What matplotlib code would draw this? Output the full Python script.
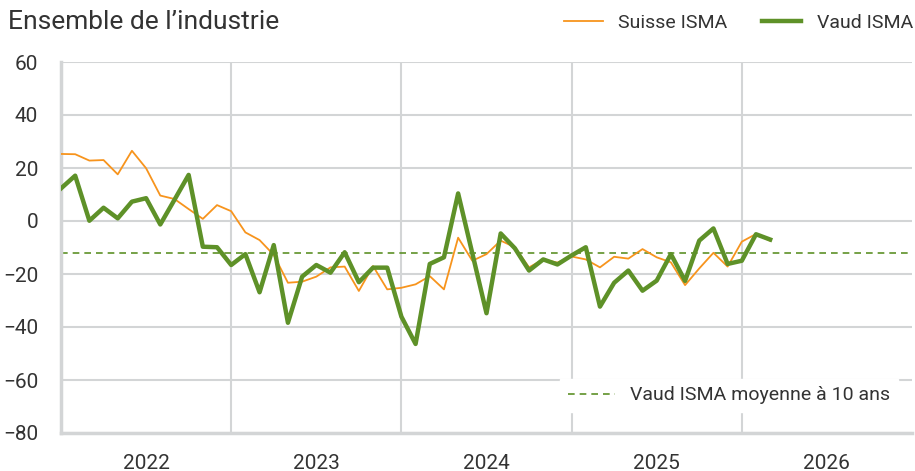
import numpy as np
import matplotlib.pyplot as plt

plt.rcParams['font.family'] = ['Roboto', 'DejaVu Sans']

years = ['2022', '2023', '2024', '2025', '2026']

# monthly values from Jan 2022 to Mar 2026
suisse = [25.3, 25.2, 22.8, 23.0, 17.6, 26.5, 19.9, 9.6, 8.3, 4.5, 0.8, 6.0,
          3.7, -4.3, -7.2, -12.8, -23.3, -22.9, -21.0, -17.5, -17.2, -26.4, -17.0, -25.8,
          -25.2, -23.9, -20.8, -25.8, -6.3, -15.0, -12.5, -7.4, -9.9, -17.5, -14.5, -15.7,
          -13.4, -14.5, -17.5, -13.5, -14.2, -10.6, -13.7, -15.6, -24.2, -17.9, -12.0, -17.2,
          -7.8, -4.9, -7.5]
vaud = [12.3, 17.1, 0.1, 5.0, 1.0, 7.3, 8.6, -1.3, 8.0, 17.4, -9.7, -9.9,
        -16.6, -12.5, -26.9, -9.1, -38.4, -21.0, -16.6, -19.5, -11.8, -23.1, -17.6, -17.6,
        -36.1, -46.4, -16.2, -13.7, 10.4, -12.2, -34.8, -4.7, -10.3, -18.7, -14.5, -16.4,
        -13.0, -9.9, -32.3, -23.3, -18.7, -26.3, -22.5, -12.5, -22.6, -7.4, -2.8, -16.2,
        -15.0, -5.0, -7.0]
vaud_moy10 = -12.0

orange = '#F7941D'
green = '#5E9128'
grid_col = '#D3D5D6'
txt = '#333333'

fig = plt.figure(figsize=(9.15, 4.71), dpi=100)
ax = fig.add_axes([61/915, 38/471, 851/915, 371/471])

m = np.arange(len(vaud))
ax.plot(m, suisse, color=orange, lw=1.3, label='Suisse ISMA', zorder=3)
ax.plot(m, vaud, color=green, lw=3.2, label='Vaud ISMA', zorder=4)
ax.axhline(vaud_moy10, color=green, lw=1.2, ls=(0, (4, 3)), zorder=2)

ax.set_xlim(0, 60)
ax.set_ylim(-80, 60)
ax.set_yticks(np.arange(-80, 61, 20))
ax.set_xticks([12, 24, 36, 48])
ax.set_xticks([6, 18, 30, 42, 54], minor=True)
ax.set_xticklabels(['', '', '', ''])
ax.set_xticklabels(years, minor=True)
ax.tick_params(axis='x', which='both', length=0, pad=15, labelsize=15, colors=txt)
ax.tick_params(axis='y', length=0, pad=16.5, labelsize=15, colors=txt)

ax.grid(True, which='major', color=grid_col, lw=1.5)
ax.set_axisbelow(True)
for s in ['top', 'right']:
    ax.spines[s].set_visible(False)
for s in ['left', 'bottom']:
    ax.spines[s].set_color(grid_col)
    ax.spines[s].set_linewidth(2.5)

fig.text(8/915, 1 - 22/471, 'Ensemble de l\u2019industrie', fontsize=19, color=txt, va='center')

leg = fig.legend(handles=ax.get_lines()[:2], loc='center right', bbox_to_anchor=(913/915, 1 - 23/471),
                 ncol=2, frameon=False, fontsize=14, handlelength=2.0, columnspacing=1.8,
                 handletextpad=0.8, labelcolor=txt, borderaxespad=0, borderpad=0)

dash = plt.Line2D([], [], color=green, lw=1.2, ls=(0, (4, 3)), label='Vaud ISMA moyenne \u00e0 10 ans')
leg2 = ax.legend(handles=[dash], loc='lower right', bbox_to_anchor=(0.995, 0.03), fontsize=14,
                 frameon=True, fancybox=False, edgecolor='white', framealpha=1, handlelength=2.4,
                 labelcolor=txt)

fig.savefig('out.png', dpi=100, facecolor='white')
